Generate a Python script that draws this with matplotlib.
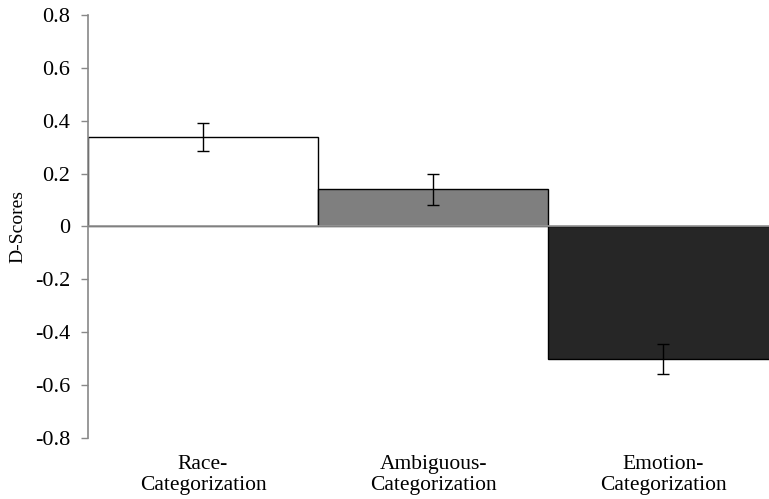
import matplotlib.pyplot as plt

conditions = ['Race-\nCategorization', 'Ambiguous-\nCategorization', 'Emotion-\nCategorization']
d_scores = [0.34, 0.14, -0.50]
errors = [0.053, 0.058, 0.057]
bar_colors = ['#ffffff', '#7f7f7f', '#262626']
y_ticks = [-0.8, -0.6, -0.4, -0.2, 0, 0.2, 0.4, 0.6, 0.8]

plt.rcParams['font.family'] = ['Liberation Serif', 'DejaVu Serif']

fig = plt.figure(figsize=(7.69, 4.99), dpi=100)
ax = fig.add_axes([0.1144, 0.1222, 0.8856, 0.8478])

x = [1, 2, 3]
ax.bar(x, d_scores, width=1.0, color=bar_colors, edgecolor='black', linewidth=1.0, zorder=2)
ax.errorbar(x, d_scores, yerr=errors, fmt='none', ecolor='black', elinewidth=1.0,
			capsize=4, capthick=1.0, zorder=4)
ax.axhline(0, color='#9a9a9a', linewidth=1.2, zorder=3)

ax.set_xlim(0.5, 3.46)
ax.set_ylim(-0.8, 0.8)
ax.set_yticks(y_ticks)
ax.set_yticklabels(['%g' % t for t in y_ticks])
ax.set_xticks(x)
ax.set_xticklabels(conditions, fontsize=15.5, linespacing=1.15)

for side in ['top', 'right', 'bottom']:
	ax.spines[side].set_visible(False)
ax.spines['left'].set_color('#888888')
ax.spines['left'].set_linewidth(1.2)
ax.spines['left'].set_zorder(5)

ax.tick_params(axis='y', direction='out', length=5, width=1.0, color='#888888', pad=8, labelsize=16)
ax.tick_params(axis='x', length=0, pad=12)

ax.set_ylabel('D-Scores', fontsize=14, labelpad=6)

fig.savefig('out.png', dpi=100)
